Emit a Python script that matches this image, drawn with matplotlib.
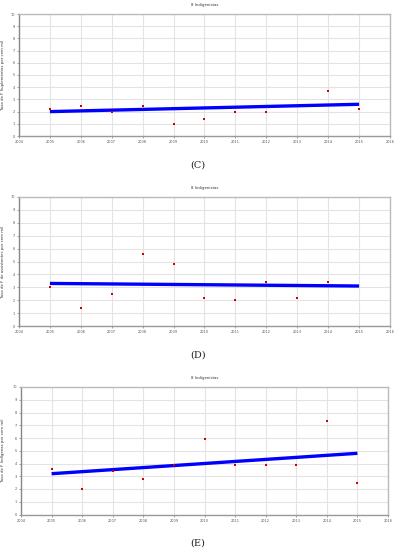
import matplotlib
matplotlib.use("Agg")
import matplotlib.pyplot as plt

years = list(range(2004, 2017))
yticks = list(range(0, 11))

c_years = [2005, 2006, 2007, 2008, 2009, 2010, 2011, 2012, 2014, 2015]
c_vals = [2.2, 2.5, 2.0, 2.5, 1.0, 1.4, 2.0, 2.0, 3.7, 2.2]
c_trend_x = [2005, 2015]
c_trend_y = [2.0, 2.6]

d_years = [2005, 2006, 2007, 2008, 2009, 2010, 2011, 2012, 2013, 2014]
d_vals = [3.0, 1.4, 2.5, 5.6, 4.8, 2.2, 2.0, 3.4, 2.2, 3.4]
d_trend_x = [2005, 2015]
d_trend_y = [3.3, 3.1]

e_years = [2005, 2006, 2007, 2008, 2009, 2010, 2011, 2012, 2013, 2014, 2015]
e_vals = [3.6, 2.0, 3.4, 2.8, 3.9, 5.9, 3.9, 3.9, 3.9, 7.3, 2.5]
e_trend_x = [2005, 2015]
e_trend_y = [3.2, 4.8]

titles = ["8 Indigenistas", "8 Indigenistas", "8 Indigenistas"]
ylabels = ["Taxa de F Suplementos por cem mil",
           "Taxa de F de assistentes por cem mil",
           "Taxa de F Indígenas por cem mil"]
captions = ["(C)", "(D)", "(E)"]

W, H = 397, 550
fig = plt.figure(figsize=(W / 100, H / 100), dpi=100)

boxes = [(19, 390, 14, 136), (19, 390, 197, 326), (21, 388, 387, 514.5)]
cap_y = [165, 355, 543]
data = [(c_years, c_vals, c_trend_x, c_trend_y),
        (d_years, d_vals, d_trend_x, d_trend_y),
        (e_years, e_vals, e_trend_x, e_trend_y)]

for i, ((l, r, t, b), (xs, ys, tx, ty)) in enumerate(zip(boxes, data)):
    ax = fig.add_axes([l / W, 1 - b / H, (r - l) / W, (b - t) / H])
    ax.set_xlim(2004, 2016)
    ax.set_ylim(0, 10)
    ax.set_xticks(years)
    ax.set_xticklabels([str(y) for y in years])
    ax.set_yticks(yticks)
    ax.set_yticklabels([str(y) for y in yticks])
    ax.tick_params(labelsize=2.5, length=1.5, width=0.4, colors="#555555", pad=1.5)
    ax.grid(True, color="#e3e3e3", linewidth=0.8)
    ax.set_axisbelow(True)
    for side, sp in ax.spines.items():
        sp.set_color("#bbbbbb")
        sp.set_linewidth(1.0)
    ax.spines["left"].set_color("#888888")
    ax.spines["bottom"].set_color("#999999")
    ax.plot(tx, ty, color="#0000ff", linewidth=2.4, solid_capstyle="butt", zorder=3)
    ax.scatter(xs, ys, marker="s", s=2.5, color="#cc0000", linewidths=0, zorder=4)
    ax.set_ylabel(ylabels[i], fontsize=2.8, color="#333333")
    ax.yaxis.set_label_coords((5 - l) / (r - l), 0.5)
    ax.set_title(titles[i], fontsize=2.8, color="#333333", pad=6)
    fig.text(198 / W, 1 - cap_y[i] / H, captions[i], fontsize=7,
             family="DejaVu Serif", ha="center", va="center", color="#222222")

fig.savefig("out.png", dpi=100)
